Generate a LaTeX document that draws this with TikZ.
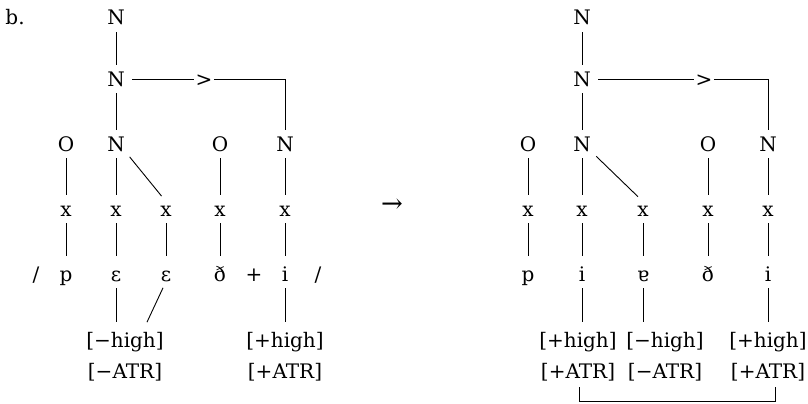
\documentclass[tikz,border=0pt]{standalone}
\usepackage{fontspec}
\setmainfont{DejaVu Serif}
\begin{document}
\begin{tikzpicture}[x=1pt, y=-1pt, font=\fontsize{20}{24}\selectfont, line width=0.9pt,
    tier/.style={inner sep=0pt, text height=14pt, text depth=0pt, anchor=base},
    seg/.style={inner sep=0pt, text height=18pt, text depth=0pt, anchor=base},
    feat/.style={inner sep=0pt, text height=18pt, text depth=4pt, anchor=base},
    assoc/.style={shorten <=7pt, shorten >=7pt}]
  \useasboundingbox (0,0) rectangle (808,404);

  % Example label
  \node[tier, anchor=base west] (lbl) at (5,25) {b.};

  % Left form: prosodic tiers
  \node[tier] (lNa) at (116,25) {N};
  \node[tier] (lNb) at (116,86) {N};
  \node[tier] (gtL) at (204,86) {>};
  \node[tier] (lOa) at (66,151) {O};
  \node[tier] (lNc) at (116,151) {N};
  \node[tier] (lOb) at (220,151) {O};
  \node[tier] (lNd) at (285,151) {N};

  % Left form: skeleton
  \node[tier] (lXa) at (66,216) {x};
  \node[tier] (lXb) at (116,216) {x};
  \node[tier] (lXc) at (166,216) {x};
  \node[tier] (lXd) at (220,216) {x};
  \node[tier] (lXe) at (285,216) {x};

  % Left form: segments
  \node[seg] (lSl) at (36,281) {/};
  \node[seg] (lSa) at (66,281) {p};
  \node[seg] (lSb) at (116,281) {ɛ};
  \node[seg] (lSc) at (166,281) {ɛ};
  \node[seg] (lSd) at (220,281) {ð};
  \node[seg] (lSp) at (254,281) {+};
  \node[seg] (lSe) at (285,281) {i};
  \node[seg] (lSr) at (318,281) {/};

  % Left form: features
  \node[feat] (lFa) at (125,347) {[−high]};
  \node[feat] (lGa) at (125,378) {[−ATR]};
  \node[feat] (lFb) at (285,347) {[+high]};
  \node[feat] (lGb) at (285,378) {[+ATR]};

  % Left form: association lines
  \draw[assoc] (lNa) -- (lNb);
  \draw[assoc] (lNb) -- (lNc);
  \draw[shorten <=7pt, shorten >=1pt] (lNb) -- (gtL);
  \draw[shorten <=1pt, shorten >=7pt] (gtL.east) -- (gtL.east -| lNd) -- (lNd.north);
  \foreach \a/\b in {lOa/lXa, lNc/lXb, lOb/lXd, lNd/lXe,
                     lXa/lSa, lXb/lSb, lXc/lSc, lXd/lSd, lXe/lSe}
    \draw[assoc] (\a.south) -- (\b.north);
  \draw[assoc] (lNc.south east) -- (lXc.north);
  \draw[assoc] (lSb.south) -- (lSb.south |- lFa.north);
  \draw[assoc] (lSc.south) -- ([xshift=19pt]lFa.north);
  \draw[assoc] (lSe.south) -- (lFb.north);

  % Arrow between forms
  \node[tier, scale=1.3] (arr) at (392,212) {→};

  % Right form: prosodic tiers
  \node[tier] (rNa) at (582,25) {N};
  \node[tier] (rNb) at (582,86) {N};
  \node[tier] (gtR) at (704,86) {>};
  \node[tier] (rOa) at (528,151) {O};
  \node[tier] (rNc) at (582,151) {N};
  \node[tier] (rOb) at (708,151) {O};
  \node[tier] (rNd) at (768,151) {N};

  % Right form: skeleton
  \node[tier] (rXa) at (528,216) {x};
  \node[tier] (rXb) at (582,216) {x};
  \node[tier] (rXc) at (643,216) {x};
  \node[tier] (rXd) at (708,216) {x};
  \node[tier] (rXe) at (768,216) {x};

  % Right form: segments
  \node[seg] (rSa) at (528,281) {p};
  \node[seg] (rSb) at (582,281) {i};
  \node[seg] (rSc) at (643,281) {ɐ};
  \node[seg] (rSd) at (708,281) {ð};
  \node[seg] (rSe) at (768,281) {i};

  % Right form: features
  \node[feat] (rFa) at (578,347) {[+high]};
  \node[feat] (rGa) at (578,378) {[+ATR]};
  \node[feat] (rFb) at (665,347) {[−high]};
  \node[feat] (rGb) at (665,378) {[−ATR]};
  \node[feat] (rFc) at (768,347) {[+high]};
  \node[feat] (rGc) at (768,378) {[+ATR]};

  % Right form: association lines
  \draw[assoc] (rNa) -- (rNb);
  \draw[assoc] (rNb) -- (rNc);
  \draw[shorten <=7pt, shorten >=1pt] (rNb) -- (gtR);
  \draw[shorten <=1pt, shorten >=7pt] (gtR.east) -- (gtR.east -| rNd) -- (rNd.north);
  \foreach \a/\b in {rOa/rXa, rNc/rXb, rOb/rXd, rNd/rXe,
                     rXa/rSa, rXb/rSb, rXc/rSc, rXd/rSd, rXe/rSe}
    \draw[assoc] (\a.south) -- (\b.north);
  \draw[assoc] (rNc.south east) -- (rXc.north);
  \draw[assoc] (rSb.south) -- (rSb.south |- rFa.north);
  \draw[assoc] (rSc.south) -- (rSc.south |- rFb.north);
  \draw[assoc] (rSe.south) -- (rFc.north);

  % Bracket joining the two [+ATR] vowels
  \draw ([shift={(1,5)}]rGa.south) |- ([shift={(7,19)}]rGc.south) -- ([shift={(7,5)}]rGc.south);
\end{tikzpicture}
\end{document}
